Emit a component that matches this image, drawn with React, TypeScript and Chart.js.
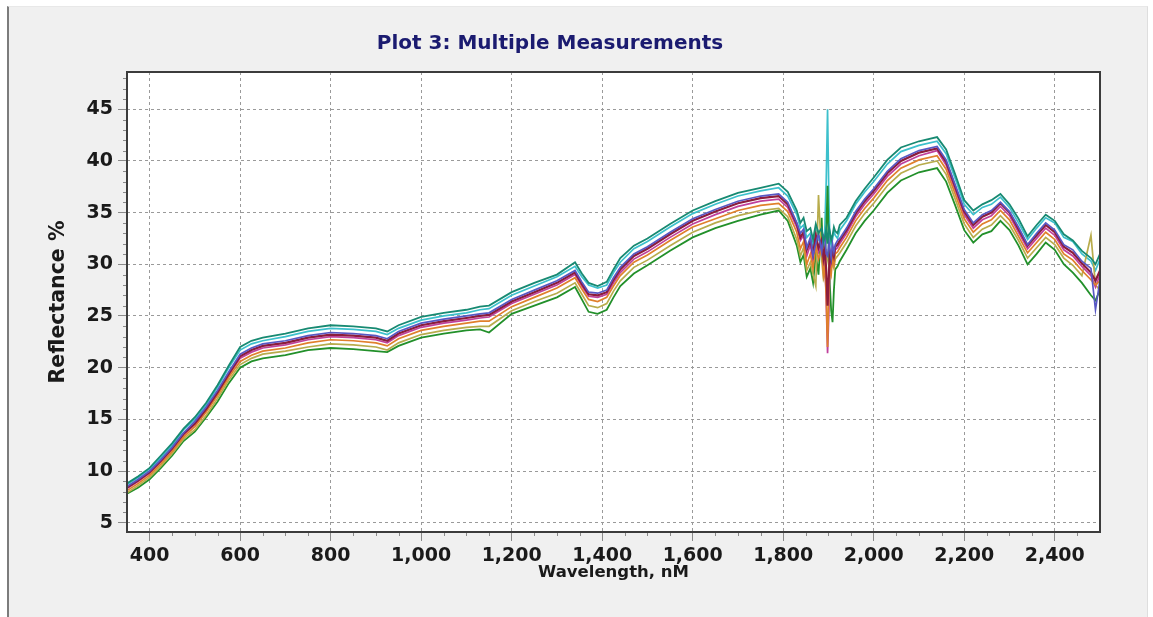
import React, { useEffect, useRef } from "react";
import { Chart, registerables } from "chart.js";

Chart.register(...registerables);

const titleText = "Plot 3: Multiple Measurements";
const xTitle = "Wavelength, nM";
const yTitle = "Reflectance %";

const xTickValues = [400, 600, 800, 1000, 1200, 1400, 1600, 1800, 2000, 2200, 2400];
const yTickValues = [5, 10, 15, 20, 25, 30, 35, 40, 45];
const xMinorStep = 50;
const yMinorStep = 1;

const wavelengths = [
  350, 375, 400, 425, 450, 475, 500, 525, 550, 575,
  600, 625, 650, 700, 750, 800, 850, 900, 925, 950,
  1000, 1050, 1100, 1130, 1150, 1200, 1250, 1300, 1340, 1355,
  1370, 1390, 1410, 1425, 1440, 1470, 1500, 1550, 1600, 1650,
  1700, 1750, 1790,
  1810, 1830, 1838, 1845, 1852, 1860, 1866, 1872, 1878, 1885, 1889,
  1892, 1895, 1898, 1901, 1903, 1906, 1909, 1912, 1915, 1920, 1925,
  1940, 1960, 1980, 2000,
  2030, 2060, 2100, 2140, 2160, 2180, 2200, 2220, 2240, 2260,
  2280, 2300, 2320, 2340, 2360, 2380, 2400, 2420, 2440, 2460,
  2480, 2490, 2500,
];

const measurementA = [
  8.8, 9.5, 10.3, 11.5, 12.7, 14.1, 15.2, 16.6, 18.3, 20.2,
  22.0, 22.6, 22.9, 23.3, 23.8, 24.1, 24.0, 23.8, 23.5, 24.1,
  24.9, 25.3, 25.6, 25.9, 26.0, 27.3, 28.2, 29.0, 30.2, 29.1,
  28.2, 27.9, 28.3, 29.5, 30.6, 31.8, 32.5, 33.9, 35.2, 36.1,
  36.9, 37.4, 37.8,
  37.0, 35.2, 34.0, 34.5, 33.2, 33.5, 32.4, 33.9, 33.0, 33.5, 32.2,
  32.6, 33.4, 32.0, 33.6, 33.2, 32.3, 32.8, 33.6, 33.2, 33.0, 33.8,
  34.5, 36.1, 37.3, 38.4,
  40.1, 41.3, 41.9, 42.3, 41.1, 38.7, 36.2, 35.2, 35.8, 36.2,
  36.8, 35.8, 34.4, 32.7, 33.8, 34.8, 34.2, 32.9, 32.3, 31.3,
  30.6, 30.0, 31.0,
];

const measurementB = [
  8.7, 9.4, 10.2, 11.3, 12.5, 14.0, 15.0, 16.4, 18.1, 20.0,
  21.7, 22.3, 22.6, 23.0, 23.5, 23.8, 23.7, 23.5, 23.2, 23.8,
  24.6, 25.0, 25.3, 25.6, 25.7, 27.0, 27.9, 28.8, 29.8, 28.8,
  28.0, 27.7, 28.0, 29.2, 30.2, 31.5, 32.2, 33.6, 34.9, 35.8,
  36.6, 37.1, 37.4,
  36.6, 34.8, 33.5, 33.8, 32.6, 33.0, 31.8, 33.4, 32.4, 33.0, 31.6,
  33.5, 38.0, 45.0, 36.0, 32.6, 31.8, 32.4, 33.2, 32.8, 32.5, 33.3,
  34.2, 35.8, 37.0, 38.0,
  39.7, 40.9, 41.5, 41.9, 40.7, 38.3, 35.8, 34.8, 35.5, 35.8,
  36.5, 35.5, 34.0, 32.4, 33.5, 34.5, 34.0, 32.6, 32.2, 31.0,
  30.3, 29.4, 30.5,
];

const measurementC = [
  8.5, 9.2, 10.0, 11.1, 12.3, 13.7, 14.8, 16.2, 17.8, 19.6,
  21.3, 21.9, 22.3, 22.6, 23.1, 23.4, 23.3, 23.1, 22.8, 23.5,
  24.3, 24.7, 25.0, 25.2, 25.3, 26.6, 27.5, 28.4, 29.4, 28.3,
  27.3, 27.2, 27.5, 28.7, 29.7, 31.0, 31.7, 33.1, 34.4, 35.3,
  36.1, 36.6, 36.8,
  36.0, 34.0, 33.0, 33.4, 31.6, 32.6, 30.8, 32.0, 33.0, 31.2, 32.8,
  32.6, 31.0, 30.8, 32.2, 31.5, 30.6, 32.0, 31.2, 31.9, 32.3, 32.5,
  33.5, 35.1, 36.3, 37.3,
  39.0, 40.2, 41.0, 41.4, 40.1, 37.7, 35.3, 34.0, 34.8, 35.2,
  36.0, 35.1, 33.6, 31.9, 33.0, 34.0, 33.3, 31.9, 31.4, 30.3,
  29.6, 25.6, 28.5,
];

const measurementD = [
  8.4, 9.1, 9.9, 11.0, 12.2, 13.6, 14.6, 16.0, 17.6, 19.4,
  21.1, 21.7, 22.1, 22.4, 22.9, 23.2, 23.1, 22.9, 22.6, 23.3,
  24.1, 24.5, 24.8, 25.0, 25.1, 26.4, 27.3, 28.2, 29.2, 28.1,
  27.1, 27.0, 27.3, 28.5, 29.5, 30.8, 31.5, 32.9, 34.2, 35.1,
  35.9, 36.4, 36.6,
  35.8, 33.9, 32.6, 33.1, 31.4, 32.3, 31.0, 32.8, 31.6, 32.4, 30.6,
  31.4, 29.5, 26.0, 29.0, 31.2, 30.5, 31.4, 30.8, 31.7, 31.9, 32.3,
  33.3, 34.9, 36.1, 37.1,
  38.8, 40.0, 40.8, 41.2, 39.9, 37.5, 35.1, 33.8, 34.6, 35.0,
  35.9, 35.0, 33.4, 31.8, 32.8, 33.8, 33.1, 31.7, 31.1, 30.1,
  29.2, 28.4, 29.4,
];

const measurementE = [
  8.3, 9.0, 9.8, 10.9, 12.1, 13.5, 14.5, 15.9, 17.5, 19.3,
  20.9, 21.5, 21.9, 22.2, 22.7, 23.0, 22.9, 22.7, 22.4, 23.1,
  23.9, 24.3, 24.6, 24.8, 24.9, 26.2, 27.1, 28.0, 29.0, 27.9,
  26.9, 26.8, 27.1, 28.2, 29.2, 30.5, 31.2, 32.6, 33.9, 34.8,
  35.6, 36.1, 36.3,
  35.5, 33.6, 32.3, 32.8, 30.8, 31.9, 30.2, 32.5, 31.2, 32.0, 29.8,
  30.6, 26.5, 21.4, 25.5, 30.2, 29.6, 31.0, 30.4, 31.4, 31.6, 32.0,
  33.0, 34.6, 35.8, 36.8,
  38.5, 39.7, 40.5, 41.0, 39.6, 37.2, 34.8, 33.5, 34.3, 34.7,
  35.6, 34.7, 33.1, 31.5, 32.5, 33.5, 32.8, 31.4, 30.8, 29.8,
  28.9, 27.8, 29.0,
];

const measurementF = [
  8.1, 8.8, 9.6, 10.7, 11.9, 13.3, 14.3, 15.7, 17.3, 19.1,
  20.6, 21.2, 21.6, 21.9, 22.4, 22.7, 22.6, 22.4, 22.1, 22.8,
  23.6, 24.0, 24.3, 24.5, 24.5, 25.9, 26.8, 27.7, 28.7, 27.6,
  26.6, 26.4, 26.8, 27.9, 28.9, 30.2, 30.9, 32.3, 33.6, 34.4,
  35.2, 35.7, 35.9,
  35.1, 33.1, 31.5, 32.2, 30.0, 31.0, 29.6, 31.8, 30.5, 31.5, 29.0,
  29.8, 27.0, 22.0, 27.5, 29.6, 29.0, 30.6, 30.0, 31.0, 31.2, 31.6,
  32.6, 34.2, 35.4, 36.4,
  38.1, 39.3, 40.1, 40.5, 39.2, 36.8, 34.4, 33.1, 33.9, 34.3,
  35.2, 34.3, 32.7, 31.1, 32.1, 33.1, 32.4, 31.0, 30.4, 29.4,
  28.5, 28.0, 28.4,
];

const measurementG = [
  7.9, 8.6, 9.4, 10.5, 11.7, 13.1, 14.0, 15.4, 17.0, 18.8,
  20.3, 20.9, 21.3, 21.6, 22.0, 22.3, 22.2, 22.0, 21.7, 22.4,
  23.2, 23.6, 23.9, 24.0, 24.0, 25.5, 26.4, 27.2, 28.2, 27.1,
  26.0, 25.8, 26.2, 27.4, 28.4, 29.7, 30.4, 31.8, 33.1, 34.0,
  34.7, 35.2, 35.4,
  34.6, 32.4, 30.8, 31.6, 29.4, 30.2, 29.0, 27.9, 36.7, 30.5, 28.6,
  29.0, 31.5, 30.5, 29.8, 28.8, 30.4, 30.0, 29.6, 30.5, 30.8, 31.1,
  32.1, 33.7, 34.9, 35.9,
  37.6, 38.8, 39.6, 40.0, 38.7, 36.3, 33.9, 32.6, 33.4, 33.8,
  34.7, 33.8, 32.3, 30.6, 31.6, 32.6, 31.9, 30.6, 29.9, 28.9,
  32.8, 28.0, 27.5,
];

const measurementH = [
  7.8, 8.4, 9.2, 10.3, 11.5, 12.9, 13.8, 15.2, 16.7, 18.5,
  20.0, 20.6, 20.9, 21.2, 21.7, 21.9, 21.8, 21.6, 21.5, 22.1,
  22.9, 23.3, 23.6, 23.7, 23.4, 25.2, 26.0, 26.8, 27.8, 26.6,
  25.4, 25.2, 25.6, 26.8, 27.9, 29.1, 29.9, 31.3, 32.6, 33.5,
  34.2, 34.8, 35.2,
  34.2, 31.8, 30.2, 30.9, 28.8, 29.6, 28.2, 31.0, 29.0, 34.5, 29.2,
  30.5, 33.0, 37.6, 31.0, 28.0, 25.5, 24.4, 27.5, 29.5, 29.8, 30.3,
  31.4, 33.0, 34.2, 35.2,
  36.9, 38.1, 38.9, 39.3, 38.0, 35.7, 33.3, 32.1, 32.9, 33.2,
  34.2, 33.3, 31.8, 30.0, 31.0, 32.1, 31.4, 30.0, 29.2, 28.2,
  27.0, 26.5, 27.5,
];

const seriesList = [
  { name: "A", values: measurementA, color: "#178a72", width: 1.8 },
  { name: "C", values: measurementC, color: "#5858c4", width: 1.7 },
  { name: "D", values: measurementD, color: "#8c1c3c", width: 2.2 },
  { name: "F", values: measurementF, color: "#e0802c", width: 1.7 },
  { name: "E", values: measurementE, color: "#c0409c", width: 1.7 },
  { name: "G", values: measurementG, color: "#b8ac4c", width: 1.7 },
  { name: "H", values: measurementH, color: "#22902a", width: 1.8 },
  { name: "B", values: measurementB, color: "#3cc0cc", width: 1.7 },
];

const FONT = "'DejaVu Sans', Verdana, sans-serif";

const plotFramePlugin = {
  id: "plotFrame",
  beforeDraw(chart: any) {
    const { ctx, chartArea } = chart;
    ctx.save();
    ctx.fillStyle = "#ffffff";
    ctx.fillRect(chartArea.left, chartArea.top, chartArea.right - chartArea.left, chartArea.bottom - chartArea.top);
    ctx.restore();
  },
  afterDatasetsDraw(chart: any) {
    const { ctx, chartArea, scales } = chart;
    const x = scales.x;
    const y = scales.y;
    ctx.save();
    ctx.strokeStyle = "#8a8a8a";
    ctx.lineWidth = 1;
    ctx.beginPath();
    const start = Math.ceil(x.min / xMinorStep) * xMinorStep;
    for (let v = start; v < x.max; v += xMinorStep) {
      if (v <= x.min || xTickValues.includes(v)) continue;
      const px = Math.round(x.getPixelForValue(v)) + 0.5;
      ctx.moveTo(px, chartArea.bottom);
      ctx.lineTo(px, chartArea.bottom + 4);
    }
    const ystart = Math.ceil(y.min / yMinorStep) * yMinorStep;
    for (let v = ystart; v < y.max; v += yMinorStep) {
      if (v <= y.min || yTickValues.includes(v)) continue;
      const py = Math.round(y.getPixelForValue(v)) + 0.5;
      ctx.moveTo(chartArea.left - 4, py);
      ctx.lineTo(chartArea.left, py);
    }
    ctx.stroke();
    ctx.strokeStyle = "#3c3c3c";
    ctx.lineWidth = 2;
    ctx.strokeRect(chartArea.left, chartArea.top, chartArea.right - chartArea.left, chartArea.bottom - chartArea.top);
    ctx.restore();
  },
};

export default function App() {
  const canvasRef = useRef<HTMLCanvasElement | null>(null);

  useEffect(() => {
    const canvas = canvasRef.current;
    if (!canvas) return;
    const chart = new Chart(canvas, {
      type: "line",
      data: {
        datasets: seriesList.map((s) => ({
          label: s.name,
          data: wavelengths.map((w, i) => ({ x: w, y: s.values[i] })),
          borderColor: s.color,
          backgroundColor: s.color,
          borderWidth: s.width,
          pointRadius: 0,
          tension: 0,
          fill: false,
        })),
      },
      options: {
        animation: false,
        responsive: false,
        devicePixelRatio: 1,
        layout: { padding: { left: 0, right: 53, top: 0, bottom: 0 } },
        plugins: {
          legend: { display: false },
          tooltip: { enabled: false },
          title: {
            display: true,
            text: titleText,
            color: "#1b1b70",
            font: { family: FONT, size: 20, weight: "bold" },
            padding: { top: 32, bottom: 16 },
          },
        },
        scales: {
          x: {
            type: "linear",
            min: 350,
            max: 2500,
            afterBuildTicks: (scale: any) => {
              scale.ticks = xTickValues.map((v) => ({ value: v }));
            },
            afterFit: (scale: any) => {
              scale.height = 85;
            },
            ticks: {
              autoSkip: false,
              maxRotation: 0,
              color: "#1a1a1a",
              padding: 4,
              font: { family: FONT, size: 19, weight: "bold" },
              callback: (v: any) => Number(v).toLocaleString("en-US"),
            },
            grid: {
              color: "#9a9a9a",
              lineWidth: 1,
              tickLength: 9,
              tickColor: "#8a8a8a",
            },
            border: { display: false, dash: [3, 3] },
            title: {
              display: true,
              text: xTitle,
              color: "#1a1a1a",
              font: { family: FONT, size: 16.5, weight: "bold" },
              padding: { top: 0, bottom: 34 },
            },
          },
          y: {
            type: "linear",
            min: 4.1,
            max: 48.6,
            afterBuildTicks: (scale: any) => {
              scale.ticks = yTickValues.map((v) => ({ value: v }));
            },
            afterFit: (scale: any) => {
              scale.width = 127;
            },
            ticks: {
              color: "#1a1a1a",
              padding: 5,
              font: { family: FONT, size: 19, weight: "bold" },
              callback: (v: any) => String(v),
            },
            grid: {
              color: "#9a9a9a",
              lineWidth: 1,
              tickLength: 9,
              tickColor: "#8a8a8a",
            },
            border: { display: false, dash: [3, 3] },
            title: {
              display: true,
              text: yTitle,
              color: "#1a1a1a",
              font: { family: FONT, size: 20.5, weight: "bold" },
              padding: { top: 46, bottom: 0 },
            },
          },
        },
      },
      plugins: [plotFramePlugin],
    } as any);
    return () => chart.destroy();
  }, []);

  return (
    <div style={{ position: "fixed", left: 0, top: 0, width: 1153, height: 617, background: "#ffffff", overflow: "hidden" }}>
      <div
        style={{
          position: "absolute",
          left: 7,
          top: 6,
          width: 1141,
          height: 611,
          background: "#f0f0f0",
          borderLeft: "2px solid #7c7c7c",
          borderRight: "1px solid #dedede",
          borderTop: "1px solid #e8e8e8",
          boxSizing: "border-box",
        }}
      />
      <canvas ref={canvasRef} width={1153} height={617} style={{ position: "absolute", left: 0, top: 0, display: "block" }} />
    </div>
  );
}
